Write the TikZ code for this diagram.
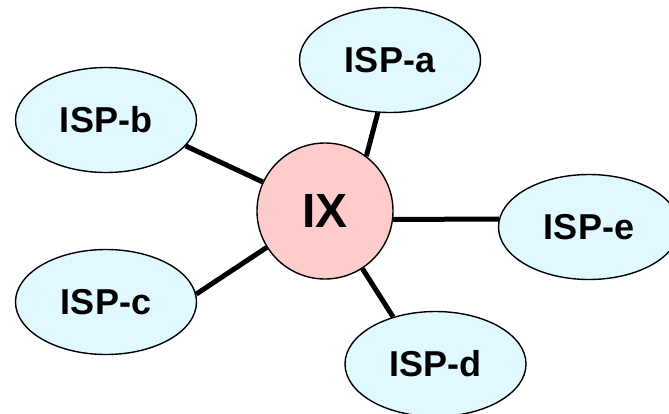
\documentclass[tikz,border=0pt]{standalone}
\usepackage{fontspec}
\setmainfont{Liberation Sans}
\usetikzlibrary{shapes.geometric}
\definecolor{ispfill}{RGB}{224,248,255}
\definecolor{ixfill}{RGB}{255,204,204}
\tikzset{
  isp/.style={ellipse, draw=black, line width=1.4pt, fill=ispfill,
    minimum width=181pt, minimum height=105pt, inner sep=0pt,
    font=\fontsize{36}{40}\selectfont\bfseries},
  hub/.style={circle, draw=black, line width=1.4pt, fill=ixfill,
    minimum size=136pt, inner sep=0pt,
    font=\fontsize{48}{52}\selectfont\bfseries},
  link/.style={line width=5pt, black}
}
\begin{document}
\begin{tikzpicture}[x=1pt, y=-1pt]
  \useasboundingbox (0,0) rectangle (669,413);
  \clip (0,0) rectangle (669,413);
  % hub and the five ISPs
  \node[hub] (ix) at (325,211) {IX};
  \node[isp] (a) at (390,60)    {ISP-a};
  \node[isp] (b) at (106,120)   {ISP-b};
  \node[isp] (c) at (106,302)   {ISP-c};
  \node[isp] (d) at (435.5,364) {ISP-d};
  \node[isp] (e) at (589,227)   {ISP-e};
  % links from the exchange to each ISP
  \draw[link] (ix.53)    -- (a.257);
  \draw[link] (ix.155.7) -- (b.342);
  \draw[link] (ix.212.5) -- (c.5);
  \draw[link] (ix.303.7) -- (d.132.8);
  \draw[link] (ix.353)   -- (e.175);
\end{tikzpicture}
\end{document}
